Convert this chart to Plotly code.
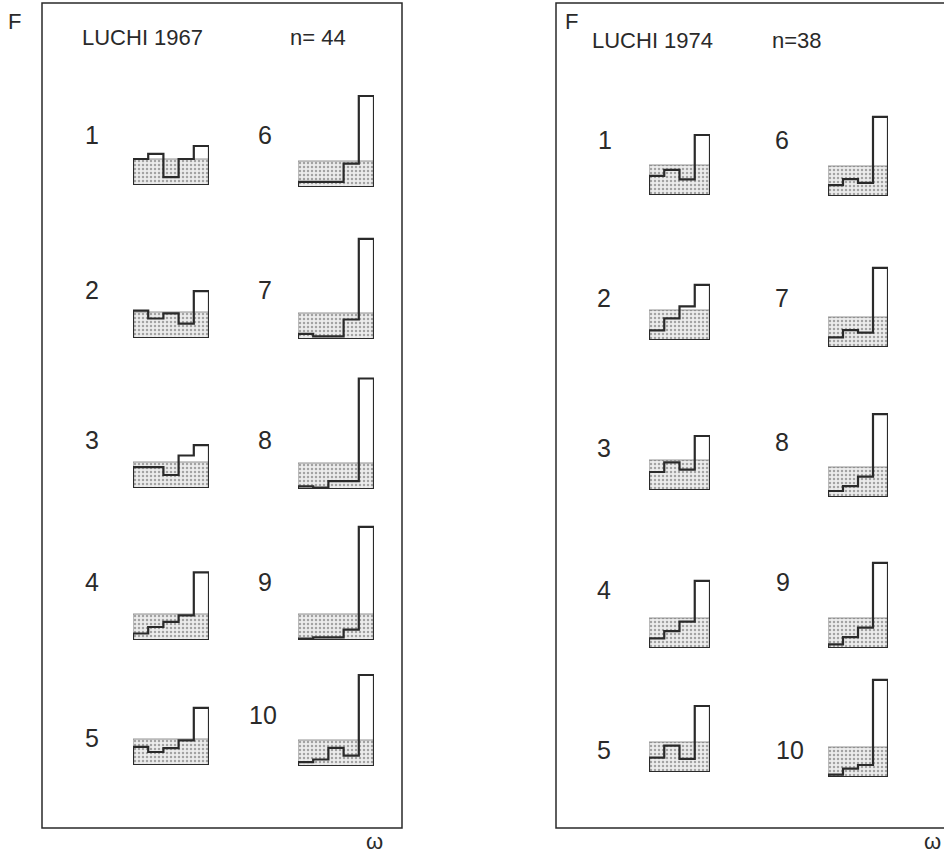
import plotly.graph_objects as go

W, H = 944, 856

# Relative frequencies (%) per class of omega, five classes for 1967, four for 1974
luchi_1967 = {
    1: [20, 24, 6, 20, 30],
    2: [21, 15, 19, 11, 36],
    3: [16, 16, 10, 25, 33],
    4: [5, 10, 14, 19, 52],
    5: [14, 10, 13, 19, 44],
    6: [4, 4, 4, 18, 70],
    7: [4, 2, 2, 15, 77],
    8: [2, 1, 6, 6, 85],
    9: [1, 2, 2, 8, 87],
    10: [3, 5, 14, 8, 70],
}
luchi_1974 = {
    1: [16, 21, 13, 50],
    2: [8, 18, 28, 46],
    3: [15, 23, 17, 45],
    4: [8, 14, 22, 56],
    5: [12, 22, 11, 55],
    6: [9, 14, 11, 66],
    7: [8, 14, 12, 66],
    8: [5, 9, 17, 69],
    9: [3, 9, 17, 71],
    10: [2, 7, 10, 81],
}
panel_titles = ["LUCHI 1967", "LUCHI 1974"]
panel_n = ["n= 44", "n=38"]

FONT = "Liberation Sans"
INK = "#2a2a2a"

# Placement of every small histogram: (left px, right px, baseline px)
layout_1967 = {
    1: (133, 209, 185), 2: (133, 209, 338), 3: (133, 209, 488), 4: (133, 209, 640), 5: (133, 209, 765),
    6: (298, 374, 187), 7: (298, 374, 339), 8: (298, 374, 489), 9: (298, 374, 640), 10: (298, 374, 766),
}
layout_1974 = {
    1: (649, 710, 195), 2: (649, 710, 340), 3: (649, 710, 490), 4: (649, 710, 648), 5: (649, 710, 772),
    6: (828, 888, 196), 7: (828, 888, 347), 8: (828, 888, 497), 9: (828, 888, 648), 10: (828, 888, 777),
}
label_1967 = {1: (92, 135), 2: (92, 290), 3: (92, 440), 4: (92, 582), 5: (92, 738),
              6: (265, 135), 7: (265, 290), 8: (265, 440), 9: (265, 582), 10: (263, 715)}
label_1974 = {1: (605, 140), 2: (604, 298), 3: (604, 448), 4: (604, 590), 5: (604, 750),
              6: (782, 140), 7: (782, 298), 8: (782, 442), 9: (783, 582), 10: (790, 750)}

fig = go.Figure()
layout = {}
annotations = []
ax = 0


def add_hist(values, x0, x1, base, px_per_pct):
    global ax
    ax += 1
    sfx = "" if ax == 1 else str(ax)
    nb = len(values)
    ref = 100.0 / nb
    ymax = 100.0
    top = base - ymax * px_per_pct
    layout["xaxis" + sfx] = dict(domain=[x0 / W, x1 / W], range=[0, nb], visible=False,
                                 anchor="y" + sfx, fixedrange=True)
    layout["yaxis" + sfx] = dict(domain=[1 - base / H, 1 - top / H], range=[0, ymax], visible=False,
                                 anchor="x" + sfx, fixedrange=True)
    # stippled band up to the uniform expectation
    fig.add_trace(go.Bar(
        x=[nb / 2], y=[ref], width=[nb], xaxis="x" + sfx, yaxis="y" + sfx,
        marker=dict(color="#e4e4e4",
                    pattern=dict(shape=".", fgcolor="#5a5a5a", bgcolor="#ececec", size=4, solidity=0.3),
                    line=dict(color="#777", width=0.8)),
        showlegend=False, hoverinfo="skip"))
    # step outline of the observed frequencies
    xs, ys = [0], [0]
    for i, v in enumerate(values):
        xs += [i, i + 1]
        ys += [v, v]
    xs += [nb, 0]
    ys += [0, 0]
    fig.add_trace(go.Scatter(
        x=xs, y=ys, mode="lines", xaxis="x" + sfx, yaxis="y" + sfx,
        line=dict(color=INK, width=2.2), showlegend=False, hoverinfo="skip"))


for k, vals in luchi_1967.items():
    x0, x1, b = layout_1967[k]
    add_hist(vals, x0, x1, b, 1.3)
for k, vals in luchi_1974.items():
    x0, x1, b = layout_1974[k]
    add_hist(vals, x0, x1, b, 1.2)


def text(s, x, y, size, anchor="center"):
    annotations.append(dict(text=s, x=x / W, y=1 - y / H, xref="paper", yref="paper",
                            xanchor=anchor, yanchor="middle", showarrow=False,
                            font=dict(family=FONT, size=size, color=INK)))


for k, (x, y) in label_1967.items():
    text(str(k), x, y, 25)
for k, (x, y) in label_1974.items():
    text(str(k), x, y, 25)

text(panel_titles[0], 80, 38, 22, "left")
text(panel_n[0], 288, 38, 22, "left")
text(panel_titles[1], 590, 40, 22, "left")
text(panel_n[1], 770, 40, 22, "left")
text("F", 14, 22, 22)
text("F", 571, 22, 22)
text("ω", 374, 841, 22)
text("ω", 932, 841, 22)

shapes = [
    dict(type="rect", xref="paper", yref="paper", x0=42 / W, x1=402 / W, y0=1 - 828 / H, y1=1 - 3 / H,
         line=dict(color=INK, width=1.5)),
    dict(type="path", xref="paper", yref="paper",
         path=f"M 1.01 {1 - 3 / H} L {556 / W} {1 - 3 / H} L {556 / W} {1 - 828 / H} L 1.01 {1 - 828 / H}",
         line=dict(color=INK, width=1.5)),
]

fig.update_layout(
    width=W, height=H, margin=dict(l=0, r=0, t=0, b=0),
    paper_bgcolor="white", plot_bgcolor="rgba(0,0,0,0)",
    barmode="overlay", annotations=annotations, shapes=shapes,
    **layout)

fig.write_html("out.html")
